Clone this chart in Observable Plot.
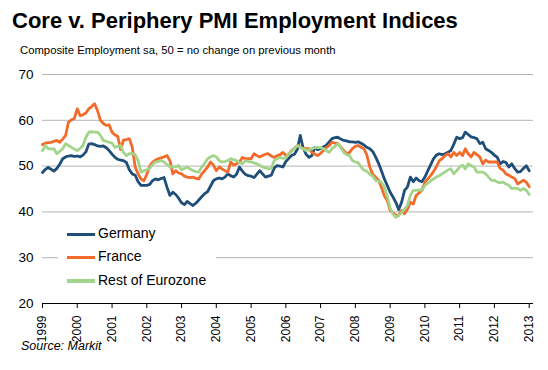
<!DOCTYPE html>
<html>
<head>
<meta charset="utf-8">
<script src="https://cdn.jsdelivr.net/npm/d3@7"></script>
<script src="https://cdn.jsdelivr.net/npm/@observablehq/plot@0.6"></script>
<style>
  html, body { margin: 0; padding: 0; background: #fff; }
  #wrap { position: relative; width: 548px; height: 370px; overflow: hidden; font-family: "Liberation Sans", Arial, sans-serif; color: #000; }
  #title { position: absolute; left: 12px; top: 9px; font-size: 22px; line-height: 24px; font-weight: bold; white-space: nowrap; }
  #subtitle { position: absolute; left: 20px; top: 43px; font-size: 11.3px; line-height: 14px; white-space: nowrap; }
  #chart { position: absolute; left: 0; top: 60px; }
  #source { position: absolute; left: 21px; top: 339px; font-size: 12.5px; line-height: 15px; font-style: italic; white-space: nowrap; }
  #legend { position: absolute; left: 58px; top: 222px; width: 158px; background: #fff; padding: 0; }
  .row { position: relative; height: 23.4px; }
  .sw { position: absolute; left: 9px; top: 10.5px; width: 28px; height: 3.5px; }
  .lab { position: absolute; left: 40px; top: 3px; font-size: 14px; line-height: 16px; white-space: nowrap; }
</style>
</head>
<body>
<div id="wrap">
  <div id="title">Core v. Periphery PMI Employment Indices</div>
  <div id="subtitle">Composite Employment sa, 50 = no change on previous month</div>
  <div id="chart"></div>
  <div id="legend"></div>
  <div id="source">Source: Markit</div>
</div>
<script>
// Monthly values, Jan 1999 .. Jan 2013
const startYear = 1999;
const germany = [
  48.6, 49.3, 49.7, 49.3, 48.9, 49.5, 50.4, 51.6, 52.0, 52.2, 52.3, 52.1,
  52.2, 52.0, 52.4, 53.1, 54.8, 54.9, 54.7, 54.4, 54.3, 54.4, 54.0, 53.4,
  52.6, 51.9, 51.5, 51.3, 51.2, 50.8, 49.2, 48.3, 48.0, 46.6, 45.8, 45.8,
  45.8, 46.0, 46.8, 47.2, 47.0, 47.3, 47.5, 45.4, 43.6, 44.3, 43.8, 43.0,
  42.0, 41.6, 42.3, 41.8, 41.4, 41.9, 42.6, 43.3, 44.0, 44.4, 45.6, 46.8,
  47.2, 47.4, 47.2, 47.6, 48.3, 47.9, 47.6, 48.2, 49.8, 48.9, 48.2, 47.9,
  47.8, 47.5, 48.2, 49.0, 48.3, 47.6, 47.8, 48.0, 49.6, 50.1, 50.0, 49.8,
  51.0, 51.7, 52.3, 52.6, 53.6, 56.7, 54.0, 52.6, 51.9, 52.3, 54.0, 53.6,
  53.8, 54.2, 54.5, 55.3, 56.0, 56.2, 56.3, 55.9, 55.6, 55.5, 55.3, 55.3,
  55.2, 55.3, 55.0, 54.6, 54.1, 53.8, 53.2, 52.0, 50.6, 49.0, 47.2, 45.8,
  44.3, 43.2, 42.1, 40.5, 42.1, 44.7, 45.4, 47.6, 46.6, 47.4, 46.8, 46.6,
  47.6, 49.0, 50.2, 51.6, 52.4, 52.7, 52.5, 52.7, 53.0, 53.4, 54.8, 56.3,
  56.0, 56.2, 57.4, 56.9, 56.4, 56.2, 56.0, 54.9, 55.2, 53.8, 53.4, 53.0,
  52.4, 51.9, 50.5, 51.0, 50.8, 49.8, 50.5, 49.5, 48.7, 48.8, 49.5, 50.1,
  49.0
];
const france = [
  54.7, 55.0, 55.1, 55.2, 55.4, 55.6, 55.2, 55.9, 56.7, 59.6, 60.1, 60.4,
  62.5, 61.0, 61.2, 61.6, 62.5, 63.0, 63.6, 62.1, 60.0, 59.3, 58.9, 59.0,
  57.4, 56.8, 56.5, 53.6, 55.7, 55.8, 56.0, 54.1, 49.8, 48.3, 47.2, 46.8,
  48.2, 50.0, 50.8, 51.3, 51.6, 51.8, 52.0, 52.3, 51.2, 48.3, 49.0, 48.5,
  48.3, 47.8, 47.6, 47.5, 47.6, 47.3, 47.2, 48.3, 49.0, 49.8, 50.9, 50.2,
  49.0, 49.8, 49.4, 49.0, 48.7, 50.9, 50.2, 50.5, 50.9, 51.9, 51.6, 51.6,
  51.6, 52.7, 52.3, 52.0, 52.3, 52.6, 52.7, 52.2, 51.9, 52.3, 52.5, 53.0,
  52.3, 52.6, 53.4, 53.9, 54.5, 54.2, 53.8, 53.8, 53.8, 53.0, 52.6, 52.3,
  52.8, 53.4, 54.0, 54.5, 55.2, 55.0, 54.9, 54.2, 53.4, 52.7, 53.0, 53.8,
  54.3, 54.5, 54.1, 53.8, 52.4, 49.8, 48.2, 47.6, 46.9, 45.4, 43.5, 42.5,
  40.3, 39.8, 39.2, 39.3, 40.3, 39.6, 40.6, 42.1, 41.7, 43.6, 44.2, 44.7,
  46.5, 47.2, 47.9, 48.8, 49.8, 51.2, 51.6, 52.3, 52.7, 52.0, 53.0, 52.3,
  53.0, 52.3, 53.8, 52.7, 52.0, 53.0, 52.5, 52.0, 50.5, 51.3, 50.9, 50.9,
  50.9, 50.9, 49.5, 49.1, 48.3, 48.0, 47.6, 47.3, 46.1, 46.5, 46.9, 46.5,
  45.5
];
const restOfEurozone = [
  53.4, 54.5, 53.8, 53.7, 53.8, 52.7, 53.2, 53.8, 54.9, 54.5, 54.1, 53.7,
  53.4, 53.9, 54.5, 56.3, 57.4, 57.5, 57.4, 57.4, 56.7, 55.6, 55.4, 55.2,
  55.0, 54.1, 54.3, 54.5, 53.0, 52.3, 52.7, 52.7, 52.5, 51.2, 48.7, 49.0,
  49.2, 49.5, 50.3, 50.9, 51.0, 51.2, 50.9, 50.3, 49.8, 49.8, 49.9, 50.1,
  49.2, 49.5, 49.8, 49.4, 49.0, 48.8, 48.7, 49.8, 50.6, 51.6, 52.0, 52.3,
  52.0, 51.2, 50.9, 51.0, 51.2, 51.6, 51.4, 51.2, 50.8, 50.5, 51.2, 51.0,
  50.9, 50.7, 50.5, 50.2, 49.8, 49.6, 49.4, 49.5, 51.2, 51.6, 51.9, 51.7,
  51.8, 52.7, 53.2, 53.8, 54.5, 54.1, 53.8, 53.4, 53.6, 53.8, 54.0, 54.1,
  54.0, 53.8, 53.4, 53.0, 53.8, 54.3, 54.9, 54.0, 53.0, 52.5, 52.3, 51.2,
  50.9, 50.7, 49.8, 49.1, 48.9, 48.2, 47.8, 46.9, 46.7, 46.5, 45.4, 43.5,
  40.8, 39.5, 38.8, 39.2, 39.9, 40.6, 41.4, 43.6, 44.7, 44.7, 44.8, 44.7,
  45.8, 46.3, 46.7, 47.2, 47.6, 47.9, 48.3, 48.7, 49.2, 49.4, 48.3, 49.0,
  49.8, 50.2, 49.4, 50.5, 50.1, 49.8, 48.7, 48.7, 48.7, 48.3, 47.6, 46.9,
  46.9, 46.5, 46.4, 46.5, 46.1, 45.8, 45.1, 45.2, 45.1, 44.7, 45.1, 44.7,
  43.8
];
const seriesNames = ["Germany", "France", "Rest of Eurozone"];
const seriesColors = ["#1F4E79", "#F26B2A", "#A2D48C"];
const yTicks = [20, 30, 40, 50, 60, 70];
const xTickYears = [1999, 2000, 2001, 2002, 2003, 2004, 2005, 2006, 2007, 2008, 2009, 2010, 2011, 2012, 2013];

const seriesValues = [germany, france, restOfEurozone];
const data = [];
seriesValues.forEach((vals, s) => {
  vals.forEach((v, i) => data.push({ date: new Date(Date.UTC(startYear, i, 1)), value: v, series: seriesNames[s] }));
});
const xTicks = xTickYears.map(y => new Date(Date.UTC(y, 0, 1)));

const plot = Plot.plot({
  width: 548,
  height: 285,
  marginTop: 14,
  marginBottom: 42,
  marginLeft: 42,
  marginRight: 15,
  style: { fontFamily: "'Liberation Sans', Arial, sans-serif", fontSize: "13px", color: "#000", background: "transparent" },
  x: { type: "utc", domain: [new Date(Date.UTC(1999, 0, 1)), new Date(Date.UTC(2013, 1, 15))] },
  y: { domain: [20, 70] },
  color: { domain: seriesNames, range: seriesColors },
  marks: [
    Plot.ruleY(yTicks.filter(d => d > 20), { stroke: "#b4b4b4", strokeWidth: 1 }),
    Plot.axisY(yTicks, { tickSize: 0, tickPadding: 9, fontSize: 13.5, label: null }),
    Plot.lineY(data, { x: "date", y: "value", z: "series", stroke: "series", strokeWidth: 2.8, strokeLinejoin: "round" }),
    Plot.ruleY([20], { stroke: "#000", strokeWidth: 1.2 }),
    Plot.axisX(xTicks, { tickSize: 5, tickPadding: 7, tickRotate: -90, tickFormat: d3.utcFormat("%Y"), fontSize: 12, label: null, stroke: "#000" })
  ]
});
document.getElementById("chart").appendChild(plot);

const legend = document.getElementById("legend");
seriesNames.forEach((name, i) => {
  const row = document.createElement("div");
  row.className = "row";
  row.innerHTML = `<div class="sw" style="background:${seriesColors[i]}"></div><div class="lab">${name}</div>`;
  legend.appendChild(row);
});
</script>
</body>
</html>
